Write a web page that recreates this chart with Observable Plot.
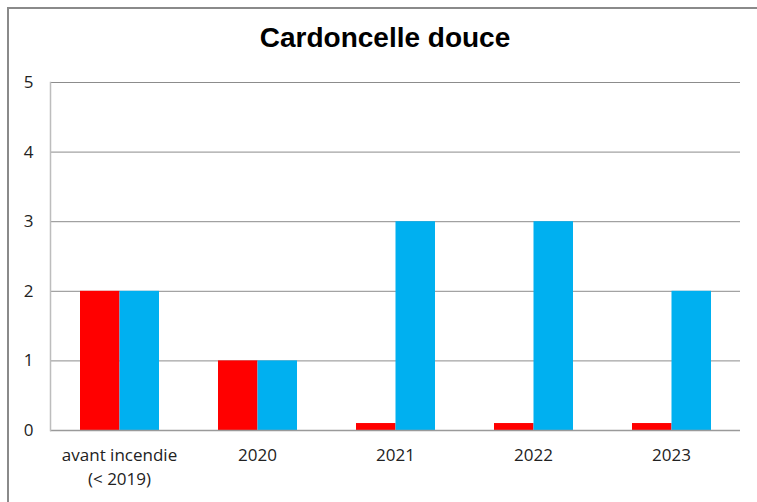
<!DOCTYPE html>
<html>
<head>
<meta charset="utf-8">
<script src="https://cdn.jsdelivr.net/npm/d3@7"></script>
<script src="https://cdn.jsdelivr.net/npm/@observablehq/plot@0.6"></script>
<style>
  html, body { margin: 0; padding: 0; background: #fff; overflow: hidden; }
  #wrap { position: relative; width: 757px; height: 502px; overflow: hidden; }
  #border { position: absolute; left: 7px; top: 7px; width: 800px; height: 600px; border: 2px solid #8a8a8a; box-sizing: border-box; }
  #title { position: absolute; left: 0; top: 22px; width: 770px; text-align: center; font-family: "Liberation Sans", Arial, sans-serif; font-weight: bold; font-size: 28px; color: #000; }
  #chart { position: absolute; left: 0; top: 0; }
</style>
</head>
<body>
<div id="wrap">
  <div id="border"></div>
  <div id="chart"></div>
  <div id="title">Cardoncelle douce</div>
</div>
<script>
const title = "Cardoncelle douce";
const categories = ["avant incendie\n(< 2019)", "2020", "2021", "2022", "2023"];
const redValues = [2, 1, 0.1, 0.1, 0.1];
const blueValues = [2, 1, 3, 3, 2];
const yTicks = [0, 1, 2, 3, 4, 5];

const data = categories.map((c, i) => ({category: c, red: redValues[i], blue: blueValues[i]}));

document.getElementById("title").textContent = title;

const chart = Plot.plot({
  width: 757,
  height: 502,
  marginLeft: 50,
  marginRight: 17,
  marginTop: 82,
  marginBottom: 72,
  style: {background: "transparent", fontFamily: "'Open Sans', sans-serif", fontSize: "16px", color: "#222"},
  x: {domain: categories, padding: 0, axis: null, label: null},
  y: {domain: [0, 5], axis: null, label: null},
  marks: [
    Plot.ruleY(yTicks.slice(1), {stroke: "#8c8c8c", strokeWidth: 1, strokeOpacity: 1}),
    Plot.barY(data, {x: "category", y: "red", fill: "#ff0000", insetLeft: 30, insetRight: 68.5}),
    Plot.barY(data, {x: "category", y: "blue", fill: "#00b0f0", insetLeft: 69.5, insetRight: 29}),
    Plot.ruleY([0], {stroke: "#9a9a9a", strokeWidth: 1.5}),
    Plot.frame({anchor: "left", stroke: "#bdbdbd", strokeWidth: 1.5}),
    Plot.axisY({ticks: yTicks, tickSize: 0, tickPadding: 17, fontSize: 17, tickFormat: d => String(d), color: "#222", label: null}),
    Plot.axisX({tickSize: 0, tickPadding: 14, fontSize: 17, lineHeight: 1.4, color: "#222", label: null})
  ]
});
document.getElementById("chart").appendChild(chart);
</script>
</body>
</html>
